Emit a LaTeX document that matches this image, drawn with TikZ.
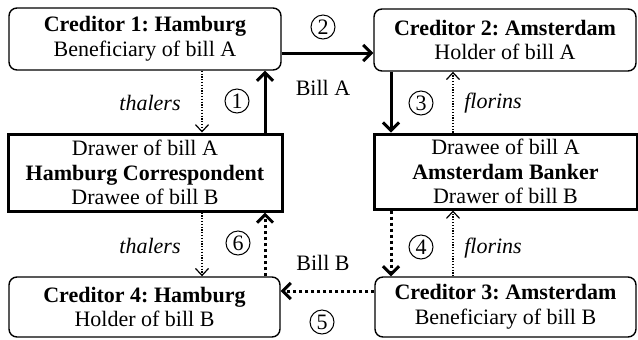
\documentclass[tikz,border=0pt]{standalone}
\usepackage{fontspec}
\setmainfont{Liberation Serif}
\usetikzlibrary{arrows.meta}
\frenchspacing
\begin{document}
\begin{tikzpicture}[x=0.5pt,y=-0.5pt,
  txt/.style={font=\fontsize{11}{12.3}\selectfont},
  party/.style={txt,draw,line width=0.7pt,rounded corners=4pt,align=center,inner sep=0pt},
  agent/.style={txt,draw,line width=1.5pt,align=center,inner sep=0pt},
  num/.style={draw,circle,line width=0.5pt,minimum size=12pt,inner sep=0pt,font=\fontsize{11}{12}\selectfont},
  lbl/.style={txt},
  bigarrow/.style={line width=1.5pt,-{Straight Barb[length=4pt,width=8pt,line width=1.5pt]}},
  bigdotarrow/.style={bigarrow,dash pattern=on 1.5pt off 1.5pt},
  moneyarrow/.style={line width=0.6pt,dash pattern=on 0.6pt off 0.8pt,-{Straight Barb[length=3.5pt,width=6.5pt,line width=0.6pt]}}
]
\useasboundingbox (0,0) rectangle (638,339);
% boxes
\node[party,minimum width=136pt,minimum height=31pt] (c1) at (145,39)
  {\textbf{Creditor 1: Hamburg}\\Beneficiary of bill A};
\node[party,minimum width=131pt,minimum height=31pt] (c2) at (505,40)
  {\textbf{Creditor 2: Amsterdam}\\Holder of bill A};
\node[agent,minimum width=137pt,minimum height=38.5pt] (hc) at (145,172.5)
  {Drawer of bill A\\\textbf{Hamburg Correspondent}\\Drawee of bill B};
\node[agent,minimum width=131.5pt,minimum height=37.5pt] (ab) at (505.5,171.5)
  {Drawee of bill A\\\textbf{Amsterdam Banker}\\Drawer of bill B};
\node[party,minimum width=135.5pt,minimum height=30pt] (c4) at (144.5,307)
  {\textbf{Creditor 4: Hamburg}\\Holder of bill B};
\node[party,minimum width=130.5pt,minimum height=30pt] (c3) at (505.5,307)
  {\textbf{Creditor 3: Amsterdam}\\Beneficiary of bill B};
% x positions of vertical connectors
\coordinate (xl) at (202,0);
\coordinate (xr) at (265,0);
\coordinate (yl) at (391,0);
\coordinate (yr) at (453,0);
\coordinate (ya) at (0,53);
\coordinate (yb) at (0,291);
% bill A
\draw[bigarrow] (hc.north -| xr) -- (c1.south -| xr);
\draw[bigarrow] (c1.east |- ya) -- (c2.west |- ya);
\draw[bigarrow] (c2.south -| yl) -- (ab.north -| yl);
% bill B
\draw[bigdotarrow] (ab.south -| yl) -- (c3.north -| yl);
\draw[bigdotarrow] (c3.west |- yb) -- (c4.east |- yb);
\draw[bigdotarrow] (c4.north -| xr) -- (hc.south -| xr);
% money
\draw[moneyarrow] (c1.south -| xl) -- (hc.north -| xl);
\draw[moneyarrow] (ab.north -| yr) -- (c2.south -| yr);
\draw[moneyarrow] (c3.north -| yr) -- (ab.south -| yr);
\draw[moneyarrow] (hc.south -| xl) -- (c4.north -| xl);
% labels
\node[lbl] (t1) at (150,103) {\itshape thalers};
\node[lbl] (t2) at (150,246) {\itshape thalers};
\node[lbl] (f1) at (493,103) {\itshape florins};
\node[lbl] (f2) at (493,248) {\itshape florins};
\node[lbl] (ba) at (323,88) {Bill A};
\node[lbl] (bb) at (323,263) {Bill B};
% step numbers
\node[num] (n1) at (237,101) {1};
\node[num] (n2) at (323,27) {2};
\node[num] (n3) at (421,103) {3};
\node[num] (n4) at (421,247) {4};
\node[num] (n5) at (322,322) {5};
\node[num] (n6) at (238,243) {6};
\end{tikzpicture}
\end{document}
